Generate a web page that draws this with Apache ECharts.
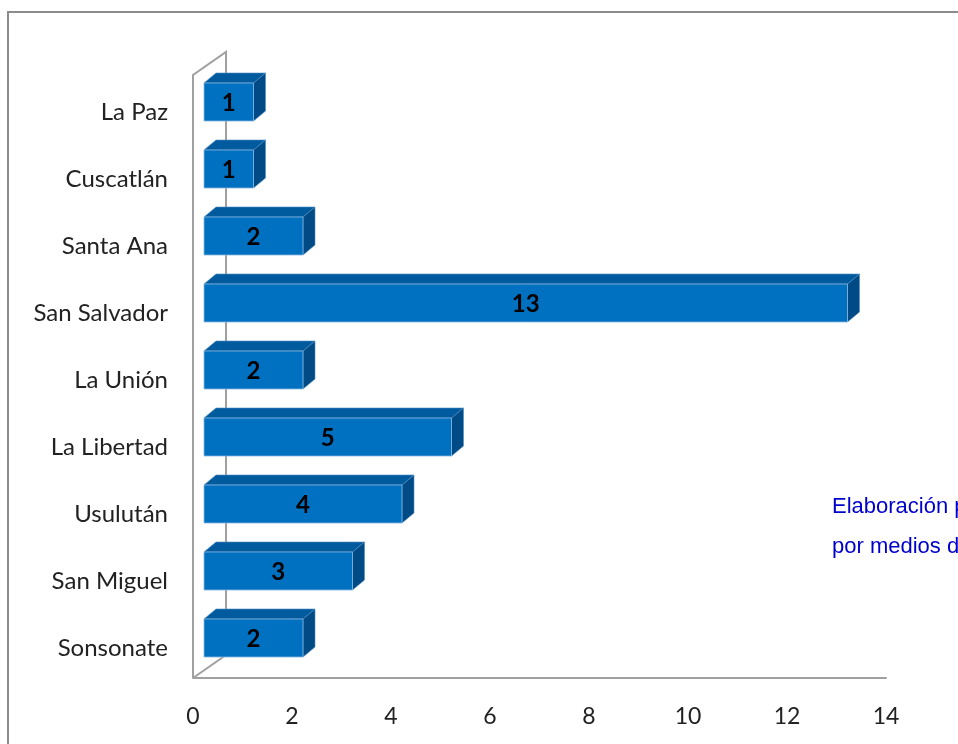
<!DOCTYPE html>
<html>
<head>
<meta charset="utf-8">
<script src="https://cdn.jsdelivr.net/npm/echarts@6/dist/echarts.min.js"></script>
<style>
html,body{margin:0;padding:0;background:#fff;}
#c{width:958px;height:744px;}
</style>
</head>
<body>
<div id="c"></div>
<script>
var categories = ['La Paz','Cuscatlán','Santa Ana','San Salvador','La Unión','La Libertad','Usulután','San Miguel','Sonsonate'];
var values = [1,1,2,13,2,5,4,3,2];
var xTicks = [0,2,4,6,8,10,12,14];
var noteLines = ['Elaboración propia con base en datos','por medios de comunicación'];

var chart = echarts.init(document.getElementById('c'));
var G = {left:193, top:75, right:72, bottom:66};
var W = 958, H = 744;
var fx0 = G.left, fy1 = H - G.bottom, fy0 = G.top, fx1 = W - G.right;
var wallDX = 33, wallDY = -23;
var barOX = 11, barFrontUp = 25.5, barH = 38, dDX = 12, dDY = -10;

var data = values.map(function(v,i){ return [v, i]; });

chart.setOption({
  animation:false,
  backgroundColor:'#fff',
  grid:{left:G.left, right:G.right, top:G.top, bottom:G.bottom, containLabel:false},
  xAxis:{
    type:'value', min:xTicks[0], max:xTicks[xTicks.length-1], interval:2,
    axisLine:{show:true, lineStyle:{color:'#a0a0a0', width:2}},
    axisTick:{show:false},
    splitLine:{show:false},
    axisLabel:{margin:27, color:'#222', fontFamily:'Lato', fontSize:23}
  },
  yAxis:{
    type:'category', data:categories, inverse:true,
    axisLine:{show:false}, axisTick:{show:false}, splitLine:{show:false},
    axisLabel:{margin:25, formatter:'{a|{value}}',
      rich:{a:{color:'#222', fontFamily:'Lato', fontSize:24, padding:[7,0,0,0]}}}
  },
  graphic:[
    {type:'rect', shape:{x:8,y:12,width:1200,height:1000}, style:{fill:'none', stroke:'#8c8c8c', lineWidth:2}, z:0},
    {type:'polyline', shape:{points:[[fx0,fy1],[fx0,fy0],[fx0+wallDX,fy0+wallDY],[fx0+wallDX,fy1+wallDY],[fx0,fy1]]}, style:{fill:'none', stroke:'#a0a0a0', lineWidth:2}, z:1},
    {type:'text', x:832, y:507, style:{text:noteLines[0], fill:'#0000cc', font:'22px "Liberation Sans", Arial, sans-serif', verticalAlign:'middle'}, z:10},
    {type:'text', x:832, y:547, style:{text:noteLines[1], fill:'#0000cc', font:'22px "Liberation Sans", Arial, sans-serif', verticalAlign:'middle'}, z:10}
  ],
  series:[{
    type:'custom',
    coordinateSystem:'cartesian2d',
    data:data,
    encode:{x:0, y:1},
    z:5,
    renderItem:function(params, api){
      var v = api.value(0), c = api.value(1);
      var p0 = api.coord([0, c]), p1 = api.coord([v, c]);
      var x0 = p0[0] + barOX, x1 = p1[0] + barOX;
      var yT = p0[1] - barFrontUp, yB = yT + barH;
      return {type:'group', children:[
        {type:'polygon', shape:{points:[[x0,yT],[x0+dDX,yT+dDY],[x1+dDX,yT+dDY],[x1,yT]]}, style:{fill:'#005a9e', stroke:'#4f8fc4', lineWidth:0.6}},
        {type:'polygon', shape:{points:[[x1,yT],[x1+dDX,yT+dDY],[x1+dDX,yB+dDY],[x1,yB]]}, style:{fill:'#004b85', stroke:'#4f8fc4', lineWidth:0.6}},
        {type:'rect', shape:{x:x0, y:yT, width:x1-x0, height:barH}, style:{fill:'#0070c0', stroke:'#8ab8e0', lineWidth:0.8}},
        {type:'text', x:(x0+x1)/2, y:yT+barH/2+1, style:{text:String(v), fill:'#000', font:'bold 24px Lato, sans-serif', align:'center', verticalAlign:'middle'}}
      ]};
    }
  }]
});
</script>
</body>
</html>
